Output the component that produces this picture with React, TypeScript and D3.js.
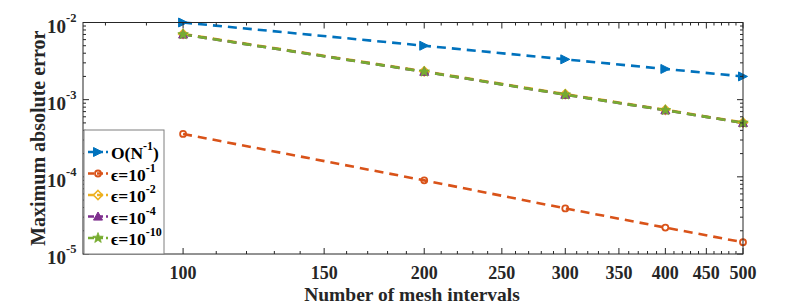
import React from "react";
import * as d3 from "d3";

const W = 793;
const H = 308;

const meshN = [100, 200, 300, 400, 500];
const seriesNames = ["O(N^-1)", "eps-1", "eps-2", "eps-4", "eps-10"];
const orderRef = [1.0e-2, 5.0e-3, 3.33e-3, 2.5e-3, 2.0e-3];
const eps1 = [3.6e-4, 9.0e-5, 3.9e-5, 2.2e-5, 1.42e-5];
const eps2 = [7.1e-3, 2.33e-3, 1.18e-3, 7.4e-4, 5.05e-4];
const eps4 = [7.0e-3, 2.3e-3, 1.16e-3, 7.3e-4, 5.0e-4];
const eps10 = [7.0e-3, 2.3e-3, 1.16e-3, 7.3e-4, 5.0e-4];
const xTickVals = [100, 150, 200, 250, 300, 350, 400, 450, 500];
const yTickExps = [-5, -4, -3, -2];
const legendMain = ["O(N", "\u03f5=10", "\u03f5=10", "\u03f5=10", "\u03f5=10"];
const legendSup = ["-1", "-1", "-2", "-4", "-10"];

const colors = ["#0072BD", "#D95319", "#EDB120", "#7E2F8E", "#77AC30"];
const markers = ["right", "circle", "diamond", "up", "star"];

const M = { left: 83, right: 743, top: 22.5, bottom: 254 };

function Marker({ type, x, y, color }: { type: string; x: number; y: number; color: string }) {
  const s = 4.5;
  if (type === "right") {
    return <path d={`M${x - s},${y - s} L${x + s},${y} L${x - s},${y + s} Z`} fill={color} stroke={color} strokeWidth={1} />;
  }
  if (type === "circle") {
    return <circle cx={x} cy={y} r={3} fill="none" stroke={color} strokeWidth={1.8} />;
  }
  if (type === "diamond") {
    return <path d={`M${x},${y - s} L${x + s},${y} L${x},${y + s} L${x - s},${y} Z`} fill="none" stroke={color} strokeWidth={1.6} />;
  }
  if (type === "up") {
    return <path d={`M${x},${y - s} L${x + s},${y + s * 0.8} L${x - s},${y + s * 0.8} Z`} fill={color} stroke={color} strokeWidth={1} />;
  }
  const pts: string[] = [];
  for (let i = 0; i < 10; i++) {
    const r = i % 2 === 0 ? 5.5 : 2.3;
    const a = -Math.PI / 2 + (i * Math.PI) / 5;
    pts.push(`${x + r * Math.cos(a)},${y + r * Math.sin(a)}`);
  }
  return <path d={`M${pts.join("L")}Z`} fill={color} stroke={color} strokeWidth={0.8} />;
}

export default function App() {
  React.useEffect(() => {
    document.body.style.margin = "0";
  }, []);
  const x = d3.scaleLog().domain([75, 500]).range([M.left, M.right]);
  const y = d3.scaleLog().domain([1e-5, 1e-2]).range([M.bottom, M.top]);
  const data = [orderRef, eps1, eps2, eps4, eps10];
  const line = d3
    .line<number>()
    .x((_, i) => x(meshN[i]))
    .y((d) => y(d));

  const xMinor: number[] = [];
  for (let v = 80; v <= 500; v += 10) if (!xTickVals.includes(v)) xMinor.push(v);
  const yMinor: number[] = [];
  for (let e = -5; e < -2; e++) for (let k = 2; k <= 9; k++) yMinor.push(k * Math.pow(10, e));

  const axisColor = "#262626";
  const font = "'Liberation Serif', 'Times New Roman', serif";

  return (
    <svg width={W} height={H} style={{ display: "block", background: "#fff" }} fontFamily={font} fontWeight="bold">
      <rect x={0} y={0} width={W} height={H} fill="#fff" />
      {data.map((d, si) => (
        <path
          key={"l" + si}
          d={line(d) || ""}
          fill="none"
          stroke={colors[si]}
          strokeWidth={2.6}
          strokeDasharray="9,6"
        />
      ))}
      {data.map((d, si) =>
        d.map((v, i) => <Marker key={`m${si}-${i}`} type={markers[si]} x={x(meshN[i])} y={y(v)} color={colors[si]} />)
      )}
      <rect x={M.left} y={M.top} width={M.right - M.left} height={M.bottom - M.top} fill="none" stroke={axisColor} strokeWidth={1} />
      {xTickVals.map((v) => (
        <g key={"xt" + v}>
          <line x1={x(v)} x2={x(v)} y1={M.bottom} y2={M.bottom - 6} stroke={axisColor} />
          <line x1={x(v)} x2={x(v)} y1={M.top} y2={M.top + 6} stroke={axisColor} />
          <text x={x(v)} y={279} textAnchor="middle" fontSize={18} fill="#262626">
            {v}
          </text>
        </g>
      ))}
      {xMinor.map((v) => (
        <g key={"xm" + v}>
          <line x1={x(v)} x2={x(v)} y1={M.bottom} y2={M.bottom - 3} stroke={axisColor} />
          <line x1={x(v)} x2={x(v)} y1={M.top} y2={M.top + 3} stroke={axisColor} />
        </g>
      ))}
      {yTickExps.map((e) => {
        const yy = y(Math.pow(10, e));
        return (
          <g key={"yt" + e}>
            <line x1={M.left} x2={M.left + 6} y1={yy} y2={yy} stroke={axisColor} />
            <line x1={M.right} x2={M.right - 6} y1={yy} y2={yy} stroke={axisColor} />
            <text x={66} y={yy + 10} textAnchor="end" fontSize={19} fill="#262626">
              10
            </text>
            <text x={66} y={yy - 1} textAnchor="start" fontSize={12.5} fill="#262626">
              {String(e)}
            </text>
          </g>
        );
      })}
      {yMinor.map((v, i) => (
        <g key={"ym" + i}>
          <line x1={M.left} x2={M.left + 3} y1={y(v)} y2={y(v)} stroke={axisColor} />
          <line x1={M.right} x2={M.right - 3} y1={y(v)} y2={y(v)} stroke={axisColor} />
        </g>
      ))}
      <text x={412} y={301} textAnchor="middle" fontSize={19.5} fill="#262626">
        Number of mesh intervals
      </text>
      <text
        transform={`translate(45,${(M.top + M.bottom) / 2}) rotate(-90)`}
        textAnchor="middle"
        fontSize={20}
        fill="#262626"
      >
        Maximum absolute error
      </text>
      <g>
        <rect x={84} y={130} width={80} height={124} fill="#fff" stroke="#7f7f7f" strokeWidth={1} />
        {seriesNames.map((n, i) => {
          const ly = 152 + i * 21.5;
          return (
            <g key={"lg" + n}>
              <line x1={88} x2={108} y1={ly} y2={ly} stroke={colors[i]} strokeWidth={2.6} strokeDasharray="6,3" />
              <Marker type={markers[i]} x={98} y={ly} color={colors[i]} />
              <text x={111} y={ly + 7} fontSize={17.5} fill="#000">
                {legendMain[i]}
                <tspan fontSize={12} dy={-9}>
                  {legendSup[i]}
                </tspan>
                {i === 0 ? (
                  <tspan dy={9} fontSize={17.5}>
                    )
                  </tspan>
                ) : null}
              </text>
            </g>
          );
        })}
      </g>
    </svg>
  );
}
